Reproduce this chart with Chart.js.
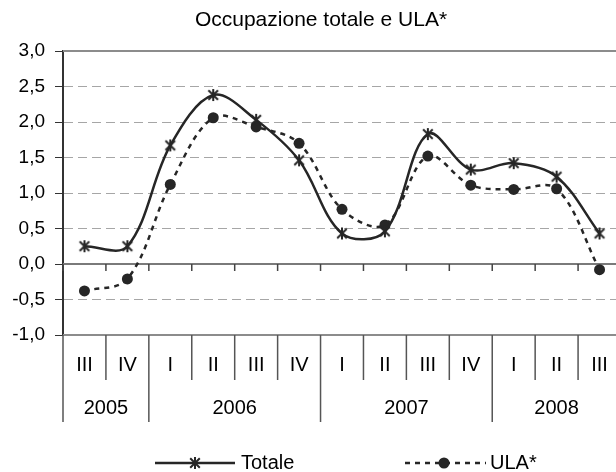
<!DOCTYPE html>
<html>
<head>
<meta charset="utf-8">
<script src="https://cdn.jsdelivr.net/npm/chart.js@4.4.1/dist/chart.umd.min.js"></script>
<style>
  html, body { margin: 0; padding: 0; overflow: hidden; background: #fff; }
  #wrap { width: 642px; height: 472px; }
</style>
</head>
<body>
<div id="wrap"><canvas id="chart" width="642" height="472"></canvas></div>
<script>
// data
const quarters = ['III', 'IV', 'I', 'II', 'III', 'IV', 'I', 'II', 'III', 'IV', 'I', 'II', 'III'];
const years = ['2005', '2006', '2007', '2008'];
const yearSpans = [2, 4, 4, 3];
const totale = [0.25, 0.25, 1.67, 2.38, 2.03, 1.46, 0.43, 0.46, 1.83, 1.33, 1.42, 1.23, 0.43];
const ula = [-0.38, -0.21, 1.12, 2.06, 1.93, 1.70, 0.77, 0.55, 1.52, 1.11, 1.05, 1.06, -0.08];
const yMin = -1, yMax = 3, yStep = 0.5;
const chartTitle = 'Occupazione totale e ULA*';

const INK = '#262626';
const FONT = '"Liberation Sans", Arial, sans-serif';

Chart.defaults.font.family = FONT;
Chart.defaults.color = '#000';

// excel-like star marker (X with a vertical bar)
function makeStar(size, color) {
    const c = document.createElement('canvas');
    c.width = size; c.height = size;
    const g = c.getContext('2d');
    const m = size / 2, r = size / 2 - 1;
    g.strokeStyle = color;
    g.lineWidth = 2;
    g.beginPath();
    g.moveTo(m - r * 0.8, m - r * 0.8); g.lineTo(m + r * 0.8, m + r * 0.8);
    g.moveTo(m + r * 0.8, m - r * 0.8); g.lineTo(m - r * 0.8, m + r * 0.8);
    g.moveTo(m, m - r); g.lineTo(m, m + r);
    g.stroke();
    return c;
}
const star = makeStar(14, INK);

// title centred on the whole (partly cropped) chart, not on the plot
const titlePlugin = {
    id: 'centredTitle',
    afterDraw(chart) {
        const { ctx } = chart;
        ctx.save();
        ctx.fillStyle = '#000';
        ctx.font = '21px ' + FONT;
        ctx.textAlign = 'center';
        ctx.textBaseline = 'middle';
        ctx.fillText(chartTitle, chart.width / 2, 20.6);
        ctx.restore();
    }
};

// solid frame lines at top, bottom and zero, plus ticks on the zero line
const framePlugin = {
    id: 'frame',
    beforeDatasetsDraw(chart) {
        const { ctx, chartArea: a, scales: { x, y } } = chart;
        const hline = (v, color) => {
            ctx.strokeStyle = color;
            ctx.lineWidth = 2;
            ctx.beginPath();
            ctx.moveTo(a.left, y.getPixelForValue(v));
            ctx.lineTo(a.right, y.getPixelForValue(v));
            ctx.stroke();
        };
        ctx.save();
        hline(yMax, '#8c8c8c');
        hline(yMin, '#8c8c8c');
        hline(0, '#7a7a7a');
        const y0 = y.getPixelForValue(0);
        ctx.strokeStyle = '#444';
        ctx.lineWidth = 1.5;
        for (let i = 0; i <= quarters.length; i++) {
            const bx = x.getPixelForValue(i - 0.5);
            ctx.beginPath();
            ctx.moveTo(bx, y0);
            ctx.lineTo(bx, y0 + 7);
            ctx.stroke();
        }
        ctx.restore();
    }
};

// two level category axis under the plot
const categoryPlugin = {
    id: 'categoryAxis',
    afterDraw(chart) {
        const { ctx, chartArea: a, scales: { x } } = chart;
        const yearEdges = [0];
        yearSpans.forEach(s => yearEdges.push(yearEdges[yearEdges.length - 1] + s));
        ctx.save();
        ctx.strokeStyle = '#555';
        ctx.lineWidth = 1.5;
        for (let i = 0; i <= quarters.length; i++) {
            const bx = x.getPixelForValue(i - 0.5);
            const len = yearEdges.includes(i) ? 87 : 45;
            ctx.beginPath();
            ctx.moveTo(bx, a.bottom);
            ctx.lineTo(bx, a.bottom + len);
            ctx.stroke();
        }
        ctx.fillStyle = '#000';
        ctx.textAlign = 'center';
        ctx.textBaseline = 'middle';
        ctx.font = '20px ' + FONT;
        quarters.forEach((q, i) => ctx.fillText(q, x.getPixelForValue(i), a.bottom + 30));
        years.forEach((yr, k) => {
            const mid = (yearEdges[k] + yearEdges[k + 1]) / 2 - 0.5;
            ctx.fillText(yr, x.getPixelForValue(mid), a.bottom + 73);
        });
        ctx.restore();
    }
};

// legend: line + marker + label, like the excel one
const legendPlugin = {
    id: 'lineLegend',
    afterDraw(chart) {
        const { ctx } = chart;
        const ly = 463;
        const items = [
            { ds: chart.data.datasets[0], x1: 155, x2: 235, mx: 195, tx: 241 },
            { ds: chart.data.datasets[1], x1: 405, x2: 486, mx: 444, tx: 490 }
        ];
        ctx.save();
        items.forEach(it => {
            ctx.strokeStyle = it.ds.borderColor;
            ctx.lineWidth = it.ds.borderWidth;
            ctx.setLineDash(it.ds.borderDash || []);
            ctx.beginPath();
            ctx.moveTo(it.x1, ly);
            ctx.lineTo(it.x2, ly);
            ctx.stroke();
            ctx.setLineDash([]);
            if (it.ds.pointStyle === 'circle') {
                ctx.fillStyle = it.ds.pointBackgroundColor;
                ctx.beginPath();
                ctx.arc(it.mx, ly, it.ds.pointRadius, 0, Math.PI * 2);
                ctx.fill();
            } else {
                ctx.drawImage(it.ds.pointStyle, it.mx - 7, ly - 7);
            }
            ctx.fillStyle = '#000';
            ctx.font = '20px ' + FONT;
            ctx.textBaseline = 'middle';
            ctx.fillText(it.ds.label, it.tx, ly);
        });
        ctx.restore();
    }
};

new Chart(document.getElementById('chart'), {
    type: 'line',
    data: {
        labels: quarters,
        datasets: [
            {
                label: 'Totale',
                data: totale,
                borderColor: INK,
                borderWidth: 2.5,
                tension: 0.35,
                pointStyle: star,
                pointRadius: 7
            },
            {
                label: 'ULA*',
                data: ula,
                borderColor: INK,
                borderWidth: 2.5,
                borderDash: [5, 5],
                tension: 0.35,
                pointStyle: 'circle',
                pointRadius: 5.5,
                pointBackgroundColor: INK,
                pointBorderWidth: 0
            }
        ]
    },
    options: {
        responsive: false,
        animation: false,
        events: [],
        layout: { padding: { top: 51, right: 21, bottom: 0, left: 0 } },
        scales: {
            x: {
                type: 'category',
                offset: true,
                grid: { display: false },
                border: { display: false },
                ticks: { display: false },
                afterFit: s => { s.height = 137; }
            },
            y: {
                min: yMin,
                max: yMax,
                ticks: {
                    stepSize: yStep,
                    padding: 10,
                    font: { size: 19 },
                    color: '#000',
                    callback: v => v.toFixed(1).replace('.', ',')
                },
                grid: {
                    color: c => ([yMin, 0, yMax].includes(c.tick.value) ? 'rgba(0,0,0,0)' : '#a6a6a6'),
                    lineWidth: 1,
                    tickColor: '#333',
                    tickLength: 8,
                    tickBorderDash: []
                },
                border: { color: '#333', width: 2, dash: [9, 5] },
                afterFit: s => { s.width = 63; }
            }
        },
        plugins: {
            legend: { display: false },
            tooltip: { enabled: false },
            title: { display: false }
        }
    },
    plugins: [framePlugin, categoryPlugin, legendPlugin, titlePlugin]
});
</script>
</body>
</html>
